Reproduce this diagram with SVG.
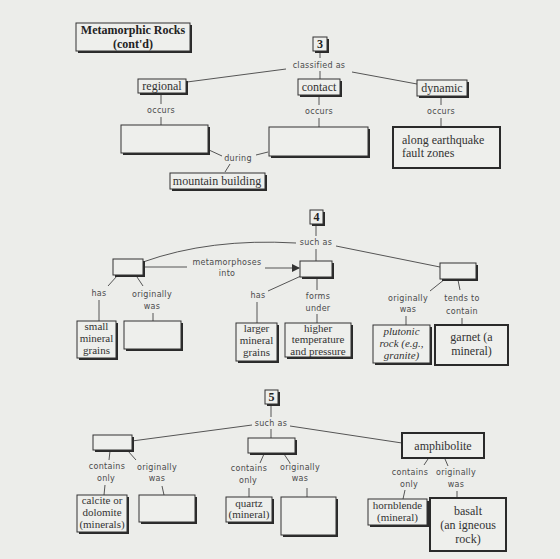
<svg xmlns="http://www.w3.org/2000/svg" width="560" height="559" viewBox="0 0 560 559">
<defs>
<marker id="arr" markerWidth="8" markerHeight="8" refX="7" refY="4" orient="auto" markerUnits="userSpaceOnUse">
<path d="M0,0 L8,4 L0,8 Z" fill="#333"/>
</marker>
</defs>
<style>
.bg{fill:#ecedea}
.sh{fill:#2a2a2a}
.bx{fill:#eeefec;stroke:#333;stroke-width:1}
.tk{fill:#eeefec;stroke:#2a2a2a;stroke-width:2}
.lb{font-family:"DejaVu Sans",sans-serif;font-size:8px;fill:#4a4a4a;text-anchor:middle;letter-spacing:0.3px}
.st{font-family:"Liberation Serif",serif;font-size:11px;fill:#333;text-anchor:middle}
.sb{font-family:"Liberation Serif",serif;font-size:12px;fill:#333;text-anchor:middle}
.ti{font-family:"Liberation Serif",serif;font-size:12px;font-weight:bold;fill:#222;text-anchor:middle}
.it{font-style:italic}
.ln{stroke:#555;stroke-width:1;fill:none}
</style>
<rect class="bg" x="0" y="0" width="560" height="559"/>

<g id="connectors">
<line class="ln" x1="320" y1="51" x2="320" y2="58"/>
<line class="ln" x1="286" y1="69" x2="187" y2="82"/>
<line class="ln" x1="320" y1="71" x2="320" y2="79"/>
<line class="ln" x1="352" y1="72" x2="417" y2="84"/>
<line class="ln" x1="161" y1="93" x2="161" y2="104"/>
<line class="ln" x1="161" y1="117" x2="161" y2="125"/>
<line class="ln" x1="319" y1="95" x2="319" y2="105"/>
<line class="ln" x1="319" y1="118" x2="319" y2="127"/>
<line class="ln" x1="441" y1="96" x2="441" y2="105"/>
<line class="ln" x1="441" y1="118" x2="441" y2="127"/>
<line class="ln" x1="209" y1="150" x2="222" y2="156"/>
<line class="ln" x1="256" y1="155" x2="268" y2="152"/>
<line class="ln" x1="230" y1="164" x2="225" y2="172"/>

<line class="ln" x1="316" y1="224" x2="316" y2="236"/>
<path class="ln" d="M296,243 Q210,238 143,262"/>
<line class="ln" x1="336" y1="246" x2="440" y2="267"/>
<line class="ln" x1="316" y1="249" x2="316" y2="261"/>
<line class="ln" x1="143" y1="267" x2="187" y2="267"/>
<line class="ln" x1="265" y1="268" x2="299" y2="268" marker-end="url(#arr)"/>
<line class="ln" x1="117" y1="276" x2="108" y2="286"/>
<line class="ln" x1="137" y1="277" x2="143" y2="286"/>
<line class="ln" x1="99" y1="300" x2="99" y2="321"/>
<line class="ln" x1="153" y1="313" x2="153" y2="321"/>
<line class="ln" x1="301" y1="276" x2="268" y2="291"/>
<line class="ln" x1="257" y1="302" x2="257" y2="323"/>
<line class="ln" x1="317" y1="278" x2="317" y2="290"/>
<line class="ln" x1="317" y1="314" x2="317" y2="323"/>
<line class="ln" x1="445" y1="279" x2="430" y2="291"/>
<line class="ln" x1="458" y1="280" x2="460" y2="290"/>
<line class="ln" x1="406" y1="316" x2="406" y2="325"/>
<line class="ln" x1="462" y1="318" x2="462" y2="325"/>

<line class="ln" x1="271" y1="404" x2="271" y2="417"/>
<line class="ln" x1="252" y1="425" x2="132" y2="441"/>
<line class="ln" x1="290" y1="426" x2="402" y2="443"/>
<line class="ln" x1="271" y1="429" x2="271" y2="438"/>
<line class="ln" x1="110" y1="451" x2="109" y2="460"/>
<line class="ln" x1="128" y1="451" x2="136" y2="460"/>
<line class="ln" x1="105" y1="485" x2="104" y2="495"/>
<line class="ln" x1="162" y1="486" x2="164" y2="495"/>
<line class="ln" x1="264" y1="454" x2="260" y2="463"/>
<line class="ln" x1="284" y1="454" x2="290" y2="463"/>
<line class="ln" x1="249" y1="488" x2="249" y2="497"/>
<line class="ln" x1="307" y1="488" x2="307" y2="497"/>
<line class="ln" x1="428" y1="459" x2="424" y2="465"/>
<line class="ln" x1="445" y1="459" x2="448" y2="466"/>
<line class="ln" x1="405" y1="490" x2="403" y2="499"/>
<line class="ln" x1="457" y1="491" x2="457" y2="498"/>
</g>

<g id="labels">
<text class="lb" x="319" y="68">classified as</text>
<text class="lb" x="161" y="113">occurs</text>
<text class="lb" x="319" y="114">occurs</text>
<text class="lb" x="441" y="114">occurs</text>
<text class="lb" x="238" y="161">during</text>
<text class="lb" x="316" y="245">such as</text>
<text class="lb" x="227" y="265">metamorphoses</text>
<text class="lb" x="227" y="276">into</text>
<text class="lb" x="99" y="296">has</text>
<text class="lb" x="152" y="297">originally</text>
<text class="lb" x="152" y="309">was</text>
<text class="lb" x="258" y="298">has</text>
<text class="lb" x="318" y="299">forms</text>
<text class="lb" x="318" y="311">under</text>
<text class="lb" x="408" y="301">originally</text>
<text class="lb" x="408" y="312">was</text>
<text class="lb" x="462" y="301">tends to</text>
<text class="lb" x="462" y="314">contain</text>
<text class="lb" x="271" y="426">such as</text>
<text class="lb" x="107" y="469">contains</text>
<text class="lb" x="106" y="481">only</text>
<text class="lb" x="157" y="470">originally</text>
<text class="lb" x="157" y="481">was</text>
<text class="lb" x="249" y="471">contains</text>
<text class="lb" x="248" y="483">only</text>
<text class="lb" x="300" y="470">originally</text>
<text class="lb" x="300" y="481">was</text>
<text class="lb" x="410" y="475">contains</text>
<text class="lb" x="409" y="487">only</text>
<text class="lb" x="456" y="475">originally</text>
<text class="lb" x="456" y="487">was</text>
</g>

<g id="title"><rect class="sh" x="78" y="25" width="114" height="28"/><rect class="bx" x="76" y="23" width="114" height="28"/>
<text class="ti" x="133" y="34">Metamorphic Rocks</text><text class="ti" x="133" y="47.5">(cont'd)</text></g>

<g id="n3"><rect class="sh" x="315" y="39" width="14" height="14"/><rect class="bx" x="313" y="37" width="14" height="14"/><text class="ti" x="320" y="48">3</text></g>
<g id="regional"><rect class="sh" x="140" y="81" width="48" height="14"/><rect class="bx" x="138" y="79" width="48" height="14"/><text class="sb" x="162" y="90">regional</text></g>
<g id="contact"><rect class="sh" x="300" y="81" width="42" height="16"/><rect class="bx" x="298" y="79" width="42" height="16"/><text class="sb" x="319" y="91">contact</text></g>
<g id="dynamic"><rect class="sh" x="419" y="82" width="50" height="16"/><rect class="bx" x="417" y="80" width="50" height="16"/><text class="sb" x="442" y="92">dynamic</text></g>
<g id="empty1"><rect class="sh" x="123" y="127" width="87" height="28"/><rect class="bx" x="121" y="125" width="87" height="28"/></g>
<g id="empty2"><rect class="sh" x="271" y="129" width="99" height="29"/><rect class="bx" x="269" y="127" width="99" height="29"/></g>
<g id="earthquake"><rect class="tk" x="393" y="127" width="107" height="41"/><text class="sb" x="402" y="144" style="text-anchor:start">along earthquake</text><text class="sb" x="402" y="157" style="text-anchor:start">fault zones</text></g>
<g id="mountain"><rect class="sh" x="172" y="175" width="95" height="16"/><rect class="bx" x="170" y="173" width="95" height="16"/><text class="sb" x="217" y="185">mountain building</text></g>

<g id="n4"><rect class="sh" x="312" y="212" width="13" height="14"/><rect class="bx" x="310" y="210" width="13" height="14"/><text class="ti" x="316.5" y="221">4</text></g>
<g id="left4"><rect class="sh" x="115" y="261" width="30" height="16"/><rect class="bx" x="113" y="259" width="30" height="16"/></g>
<g id="mid4"><rect class="sh" x="302" y="263" width="32" height="16"/><rect class="bx" x="300" y="261" width="32" height="16"/></g>
<g id="right4"><rect class="sh" x="442" y="265" width="36" height="16"/><rect class="bx" x="440" y="263" width="36" height="16"/></g>
<g id="small"><rect class="sh" x="79" y="323" width="39" height="37"/><rect class="bx" x="77" y="321" width="39" height="37"/>
<text class="st" x="96.5" y="330">small</text><text class="st" x="96.5" y="342">mineral</text><text class="st" x="96.5" y="354">grains</text></g>
<g id="empty3"><rect class="sh" x="126" y="323" width="57" height="28"/><rect class="bx" x="124" y="321" width="57" height="28"/></g>
<g id="larger"><rect class="sh" x="238" y="325" width="41" height="38"/><rect class="bx" x="236" y="323" width="41" height="38"/>
<text class="st" x="256.5" y="332">larger</text><text class="st" x="256.5" y="344">mineral</text><text class="st" x="256.5" y="356">grains</text></g>
<g id="higher"><rect class="sh" x="287" y="325" width="66" height="34"/><rect class="bx" x="285" y="323" width="66" height="34"/>
<text class="st" x="318" y="331.5">higher</text><text class="st" x="318" y="343">temperature</text><text class="st" x="318" y="354.5">and pressure</text></g>
<g id="plutonic"><rect class="sh" x="375" y="327" width="57" height="38"/><rect class="bx" x="373" y="325" width="57" height="38"/>
<text class="st it" x="401.5" y="335">plutonic</text><text class="st it" x="401.5" y="347">rock (e.g.,</text><text class="st it" x="401.5" y="359">granite)</text></g>
<g id="garnet"><rect class="tk" x="435" y="325" width="73" height="40"/>
<text class="sb" x="471.5" y="341">garnet (a</text><text class="sb" x="471.5" y="355">mineral)</text></g>

<g id="n5"><rect class="sh" x="267" y="392" width="13" height="14"/><rect class="bx" x="265" y="390" width="13" height="14"/><text class="ti" x="271.5" y="401">5</text></g>
<g id="left5"><rect class="sh" x="95" y="437" width="39" height="15"/><rect class="bx" x="93" y="435" width="39" height="15"/></g>
<g id="mid5"><rect class="sh" x="250" y="440" width="47" height="15"/><rect class="bx" x="248" y="438" width="47" height="15"/></g>
<g id="amphibolite"><rect class="tk" x="402" y="433" width="82" height="25"/><text class="sb" x="443" y="450">amphibolite</text></g>
<g id="calcite"><rect class="sh" x="79" y="497" width="50" height="37"/><rect class="bx" x="77" y="495" width="50" height="37"/>
<text class="st" x="102" y="504">calcite or</text><text class="st" x="102" y="516">dolomite</text><text class="st" x="102" y="528">(minerals)</text></g>
<g id="empty4"><rect class="sh" x="141" y="497" width="56" height="27"/><rect class="bx" x="139" y="495" width="56" height="27"/></g>
<g id="quartz"><rect class="sh" x="228" y="499" width="46" height="25"/><rect class="bx" x="226" y="497" width="46" height="25"/>
<text class="st" x="249" y="507">quartz</text><text class="st" x="249" y="518">(mineral)</text></g>
<g id="empty5"><rect class="sh" x="283" y="499" width="55" height="38"/><rect class="bx" x="281" y="497" width="55" height="38"/></g>
<g id="hornblende"><rect class="sh" x="370" y="501" width="59" height="26"/><rect class="bx" x="368" y="499" width="59" height="26"/>
<text class="st" x="397.5" y="509">hornblende</text><text class="st" x="397.5" y="521">(mineral)</text></g>
<g id="basalt"><rect class="tk" x="430" y="498" width="76" height="53"/>
<text class="sb" x="468" y="515">basalt</text><text class="sb" x="468" y="529">(an igneous</text><text class="sb" x="468" y="543">rock)</text></g>
</svg>
